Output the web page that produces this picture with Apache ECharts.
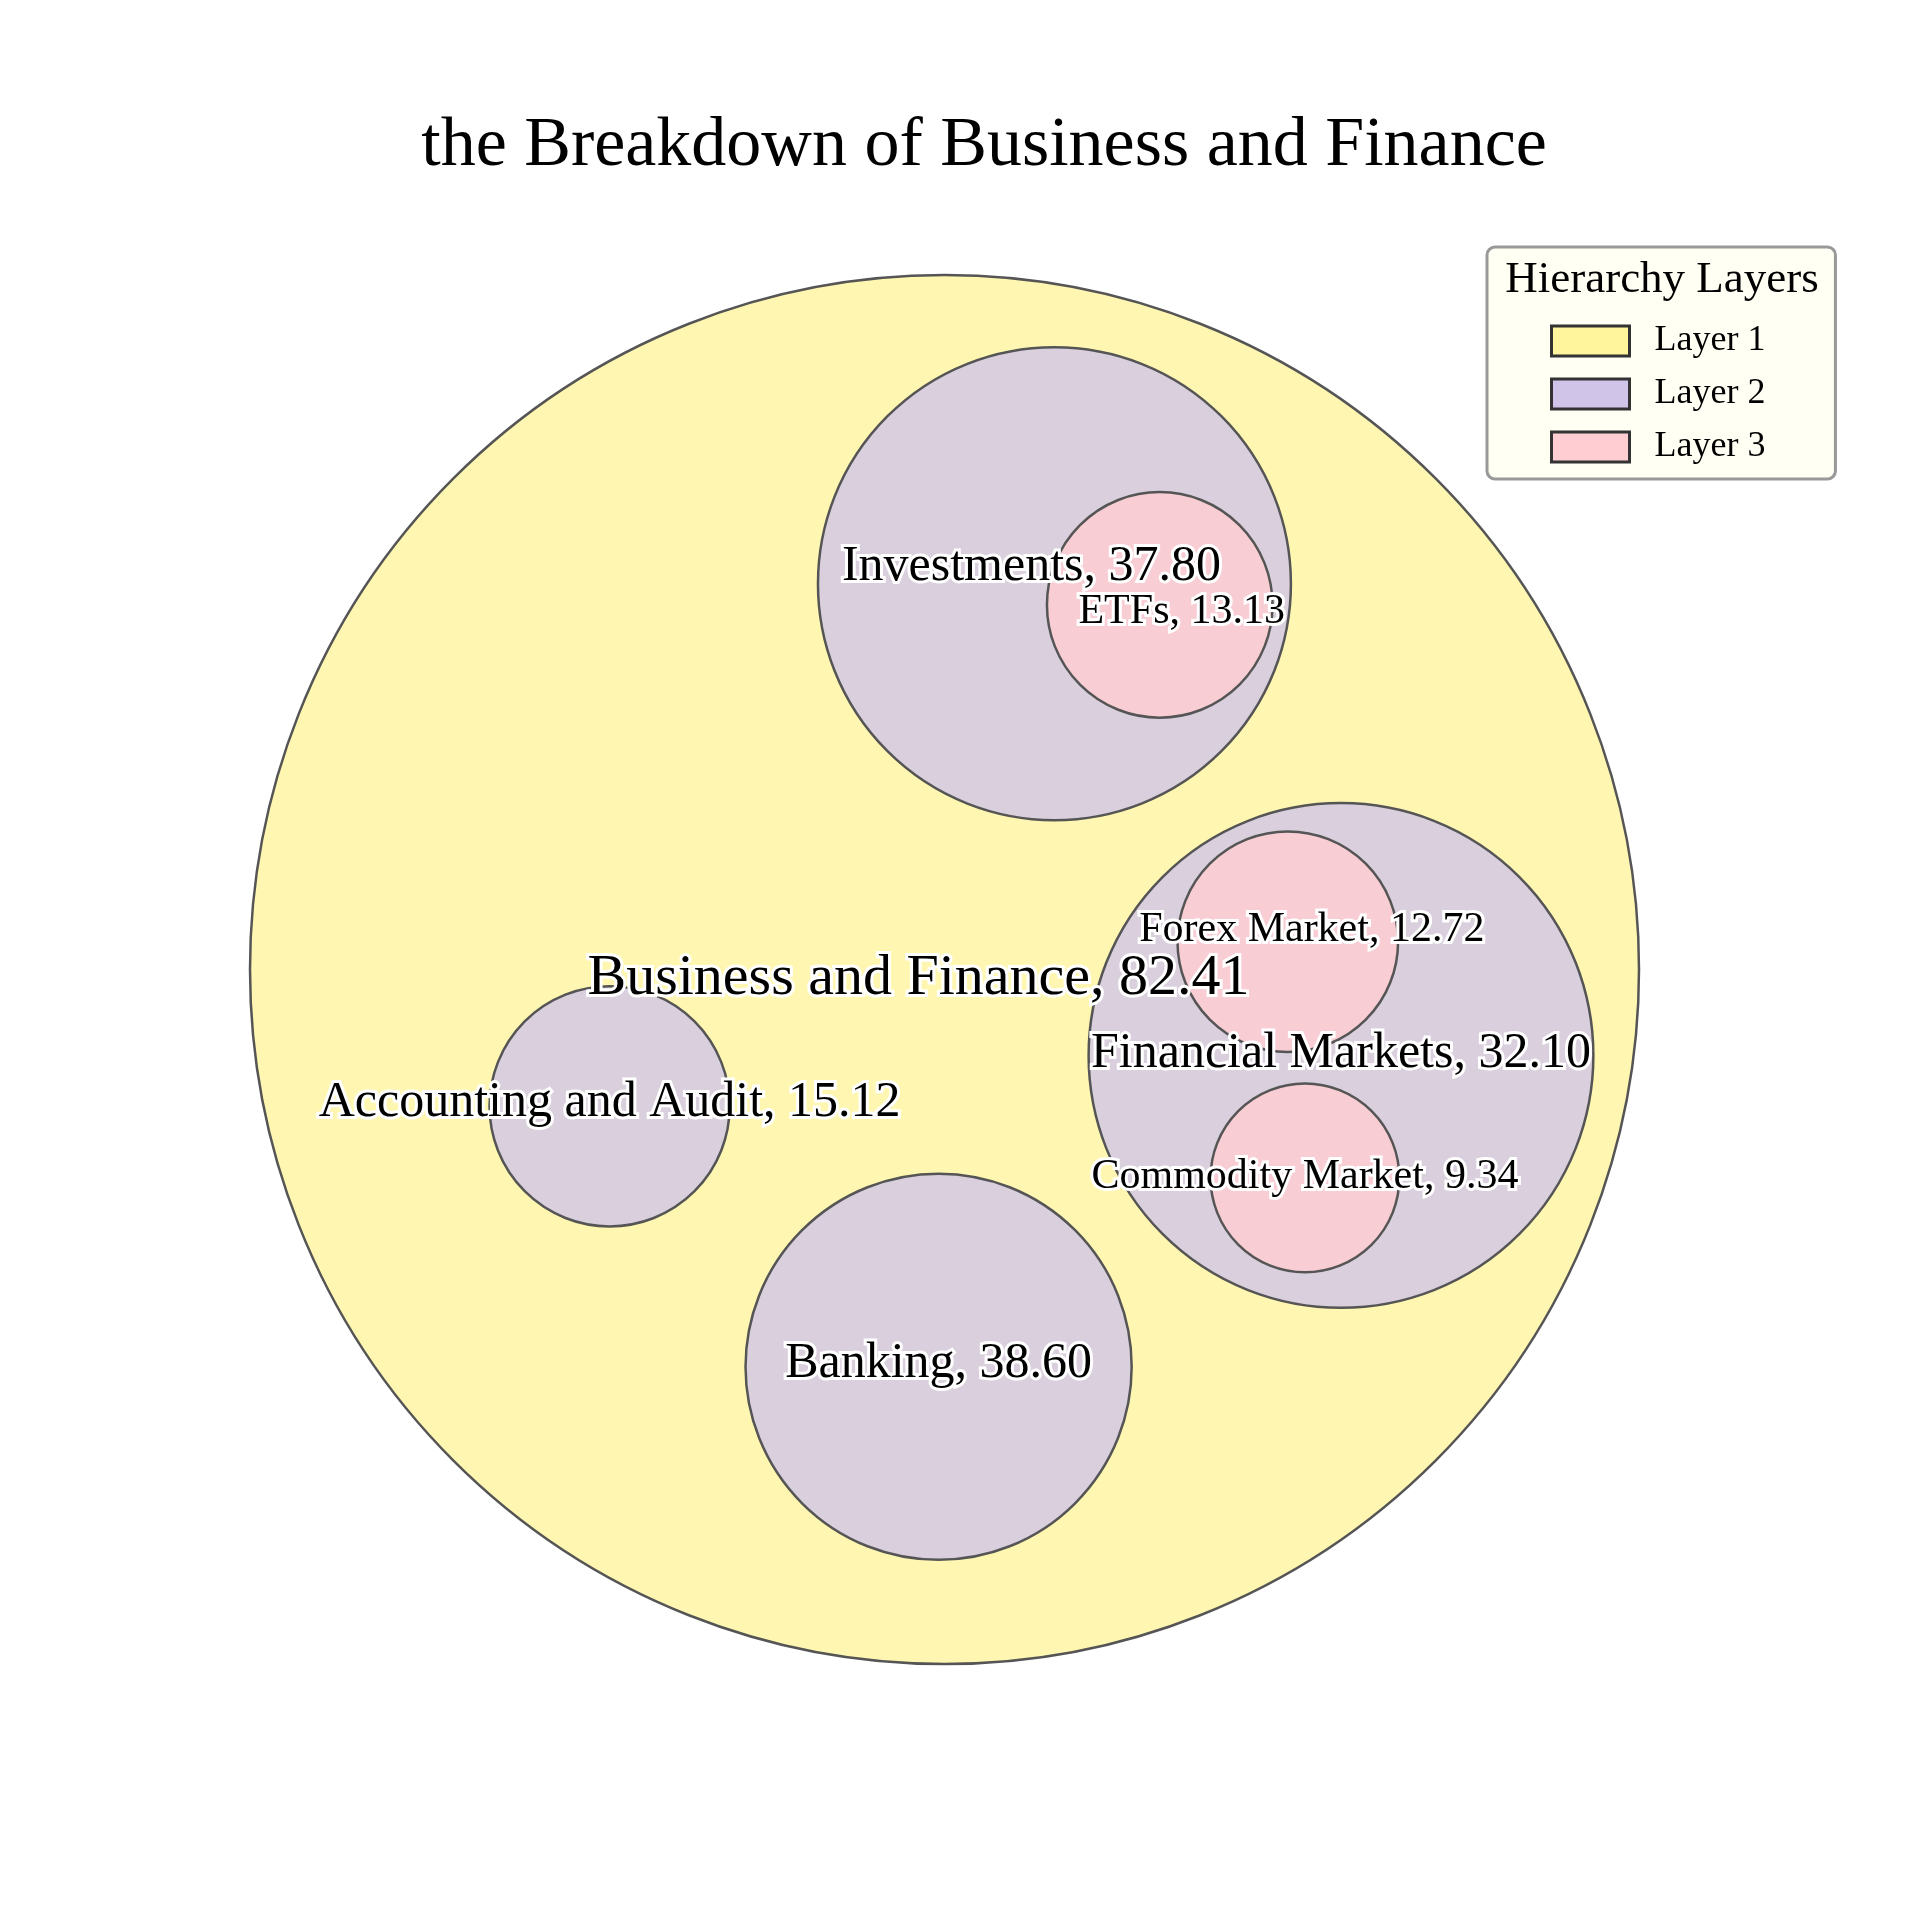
<!DOCTYPE html>
<html>
<head>
<meta charset="utf-8">
<script src="https://cdn.jsdelivr.net/npm/echarts@6/dist/echarts.min.js"></script>
<style>
  html, body { margin: 0; padding: 0; background: #ffffff; }
  #chart { width: 1920px; height: 1920px; }
</style>
</head>
<body>
<div id="chart"></div>
<script>
// ---- data ----
const titleText = 'the Breakdown of Business and Finance';
const names = ['Business and Finance', 'Investments', 'ETFs', 'Financial Markets',
               'Forex Market', 'Commodity Market', 'Accounting and Audit', 'Banking'];
const values = [82.41, 37.80, 13.13, 32.10, 12.72, 9.34, 15.12, 38.60];
const layers = [1, 2, 3, 2, 3, 3, 2, 2];
// circle-packing layout (unit circle coordinates)
const circleX = [0.0000, 0.1583, 0.3099, 0.5709, 0.4943, 0.5190, -0.4822, -0.0085];
const circleY = [0.0000, 0.5555, 0.5250, -0.1238, 0.0400, -0.3000, -0.1970, -0.5720];
const circleR = [1.0000, 0.3405, 0.1624, 0.3634, 0.1588, 0.1359, 0.1729, 0.2780];
const layerNames = ['Layer 1', 'Layer 2', 'Layer 3'];
const legendTitle = 'Hierarchy Layers';

// ---- styles ----
const FONT = '"Liberation Serif", "Times New Roman", serif';
const layerFill = ['rgba(255,245,157,0.8)', 'rgba(209,196,233,0.8)', 'rgba(255,205,210,0.8)'];
const layerSolid = ['#fff59d', '#d1c4e9', '#ffcdd2'];
const layerFont = [58, 50, 42];
const labelShift = [[-26, 9], [-23, -17], [22, 7], [0, -2], [24, -12], [0, -1], [0, -3], [0, -3]];

function circleSeries(layer) {
  const data = [];
  for (let i = 0; i < names.length; i++) {
    if (layers[i] === layer) data.push([circleX[i], circleY[i], circleR[i], i]);
  }
  return {
    type: 'custom',
    name: layerNames[layer - 1],
    coordinateSystem: 'cartesian2d',
    itemStyle: { color: layerSolid[layer - 1] },
    data: data,
    renderItem: function (params, api) {
      const c = api.coord([api.value(0), api.value(1)]);
      const s = api.size([api.value(2), api.value(2)]);
      return {
        type: 'circle',
        shape: { cx: c[0], cy: c[1], r: s[0] },
        style: { fill: layerFill[layer - 1], stroke: '#555555', lineWidth: 2.5 }
      };
    }
  };
}

const labelData = names.map((n, i) => [circleX[i], circleY[i], circleR[i], i]);

const labelSeries = {
  type: 'custom',
  name: 'labels',
  coordinateSystem: 'cartesian2d',
  data: labelData,
  z: 10,
  renderItem: function (params, api) {
    const i = api.value(3);
    const c = api.coord([api.value(0), api.value(1)]);
    return {
      type: 'text',
      x: c[0] + labelShift[i][0],
      y: c[1] + labelShift[i][1],
      style: {
        text: names[i] + ', ' + values[i].toFixed(2),
        fontFamily: FONT,
        fontSize: layerFont[layers[i] - 1],
        fill: '#000000',
        stroke: '#ffffff',
        lineWidth: 6,
        align: 'center',
        verticalAlign: 'middle'
      }
    };
  }
};

const chart = echarts.init(document.getElementById('chart'), null, { renderer: 'canvas' });
chart.setOption({
  backgroundColor: '#ffffff',
  animation: false,
  grid: { left: 250, top: 275, width: 1389, height: 1389 },
  xAxis: { type: 'value', min: -1, max: 1, show: false },
  yAxis: { type: 'value', min: -1, max: 1, show: false },
  legend: {
    orient: 'vertical',
    left: 1487,
    top: 247,
    padding: [76, 70, 14, 63],
    backgroundColor: '#fffff3',
    borderColor: '#999999',
    borderWidth: 3,
    borderRadius: 8,
    icon: 'rect',
    itemWidth: 78,
    itemHeight: 30,
    itemGap: 17,
    selectedMode: false,
    textStyle: { fontFamily: FONT, fontSize: 36, color: '#000000', padding: [0, 0, 0, 20], lineHeight: 30 },
    data: layerNames.map((n, k) => ({
      name: n,
      itemStyle: { color: layerSolid[k], borderColor: '#333333', borderWidth: 3 }
    }))
  },
  graphic: [
    {
      type: 'text',
      x: 984, y: 147,
      style: { text: titleText, fontFamily: FONT, fontSize: 70, fill: '#000000', align: 'center', verticalAlign: 'middle' }
    },
    {
      type: 'text',
      x: 1662, y: 280, z: 100,
      style: { text: legendTitle, fontFamily: FONT, fontSize: 45, fill: '#000000', align: 'center', verticalAlign: 'middle' }
    }
  ],
  series: [circleSeries(1), circleSeries(2), circleSeries(3), labelSeries]
});
</script>
</body>
</html>
